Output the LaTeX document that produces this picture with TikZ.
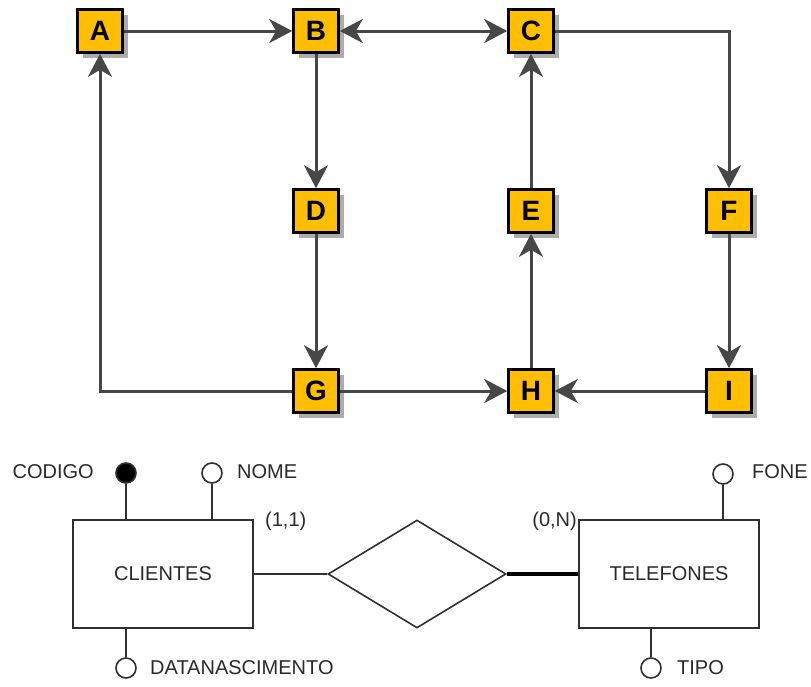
\documentclass[tikz,border=0pt]{standalone}
\usepackage{fontspec}
\setmainfont{Liberation Sans}
\usetikzlibrary{arrows.meta,shadows,shapes.geometric}
\definecolor{boxfill}{HTML}{FFBF00}
\definecolor{flowline}{HTML}{474747}
\definecolor{erline}{HTML}{303030}
\definecolor{ertext}{HTML}{2A2A2A}
\tikzset{
  flowtip/.tip={Stealth[length=23pt,width=24pt,inset=7pt]},
  letterbox/.style={draw=black, line width=2.6pt, fill=boxfill,
    minimum width=45pt, minimum height=43pt, inner sep=0pt,
    font=\fontsize{28}{28}\selectfont\bfseries,
    general shadow={fill=gray!65, shadow xshift=5pt, shadow yshift=-5pt}},
  flow/.style={draw=flowline, line width=3pt, -flowtip},
  flowboth/.style={draw=flowline, line width=3pt, flowtip-flowtip},
  entity/.style={draw=erline, line width=1.6pt, minimum width=180pt,
    minimum height=108pt, inner sep=0pt, text=ertext,
    font=\fontsize{20}{20}\selectfont},
  relation/.style={draw=erline, line width=1.6pt, diamond, aspect=1.65,
    minimum width=178pt, minimum height=108pt, inner sep=0pt},
  attr/.style={draw=erline, line width=1.6pt, circle, minimum size=20pt,
    inner sep=0pt, fill=white},
  keyattr/.style={attr, fill=black},
  erlabel/.style={text=ertext, font=\fontsize{20}{20}\selectfont, inner sep=0pt},
  erlink/.style={draw=erline, line width=1.6pt},
}
\begin{document}
\begin{tikzpicture}[x=1pt,y=-1pt]
  \useasboundingbox[fill=white] (0,0) rectangle (811,686);

  % flow graph
  \node[letterbox] (A) at (100,31) {A};
  \node[letterbox] (B) at (316,31) {B};
  \node[letterbox] (C) at (531,31) {C};
  \node[letterbox] (D) at (316,211) {D};
  \node[letterbox] (E) at (531,211) {E};
  \node[letterbox] (F) at (729,211) {F};
  \node[letterbox] (G) at (316,391) {G};
  \node[letterbox] (H) at (531,391) {H};
  \node[letterbox] (I) at (729,391) {I};

  \draw[flow] (A) -- (B);
  \draw[flowboth] (B) -- (C);
  \draw[flow] (C) -| (F);
  \draw[flow] (B) -- (D);
  \draw[flow] (D) -- (G);
  \draw[flow] (G) -- (H);
  \draw[flow] (I) -- (H);
  \draw[flow] (H) -- (E);
  \draw[flow] (E) -- (C);
  \draw[flow] (F) -- (I);
  \draw[flow] (G) -| (A);

  % entity-relationship diagram
  \node[entity] (cli) at (163,574) {CLIENTES};
  \node[entity] (tel) at (669,574) {TELEFONES};
  \node[relation] (rel) at (417,574) {};

  \draw[erlink] (cli.east) -- (rel.west);
  \draw[draw=black, line width=4pt] (rel.east) -- (tel.west);

  \node[keyattr] (cod) at (126,473) {};
  \node[attr] (nome) at (212,473) {};
  \node[attr] (dnasc) at (126,668) {};
  \node[attr] (fone) at (723,474) {};
  \node[attr] (tipo) at (651,668) {};

  \coordinate (codfoot) at (126,520);
  \coordinate (nomefoot) at (212,520);
  \coordinate (dnascfoot) at (126,628);
  \coordinate (fonefoot) at (723,520);
  \coordinate (tipofoot) at (651,628);
  \draw[erlink] (cod) -- (codfoot);
  \draw[erlink] (nome) -- (nomefoot);
  \draw[erlink] (dnasc) -- (dnascfoot);
  \draw[erlink] (fone) -- (fonefoot);
  \draw[erlink] (tipo) -- (tipofoot);

  \node[erlabel, anchor=east] (codl) at (94,472) {CODIGO};
  \node[erlabel, anchor=west] (nomel) at (237,472) {NOME};
  \node[erlabel, anchor=west] (dnascl) at (150,668) {DATANASCIMENTO};
  \node[erlabel, anchor=west] (fonel) at (752,472) {FONE};
  \node[erlabel, anchor=west] (tipol) at (677,668) {TIPO};
  \node[erlabel, anchor=west] (card1) at (265,521) {(1,1)};
  \node[erlabel, anchor=east] (card2) at (577,521) {(0,N)};
\end{tikzpicture}
\end{document}
